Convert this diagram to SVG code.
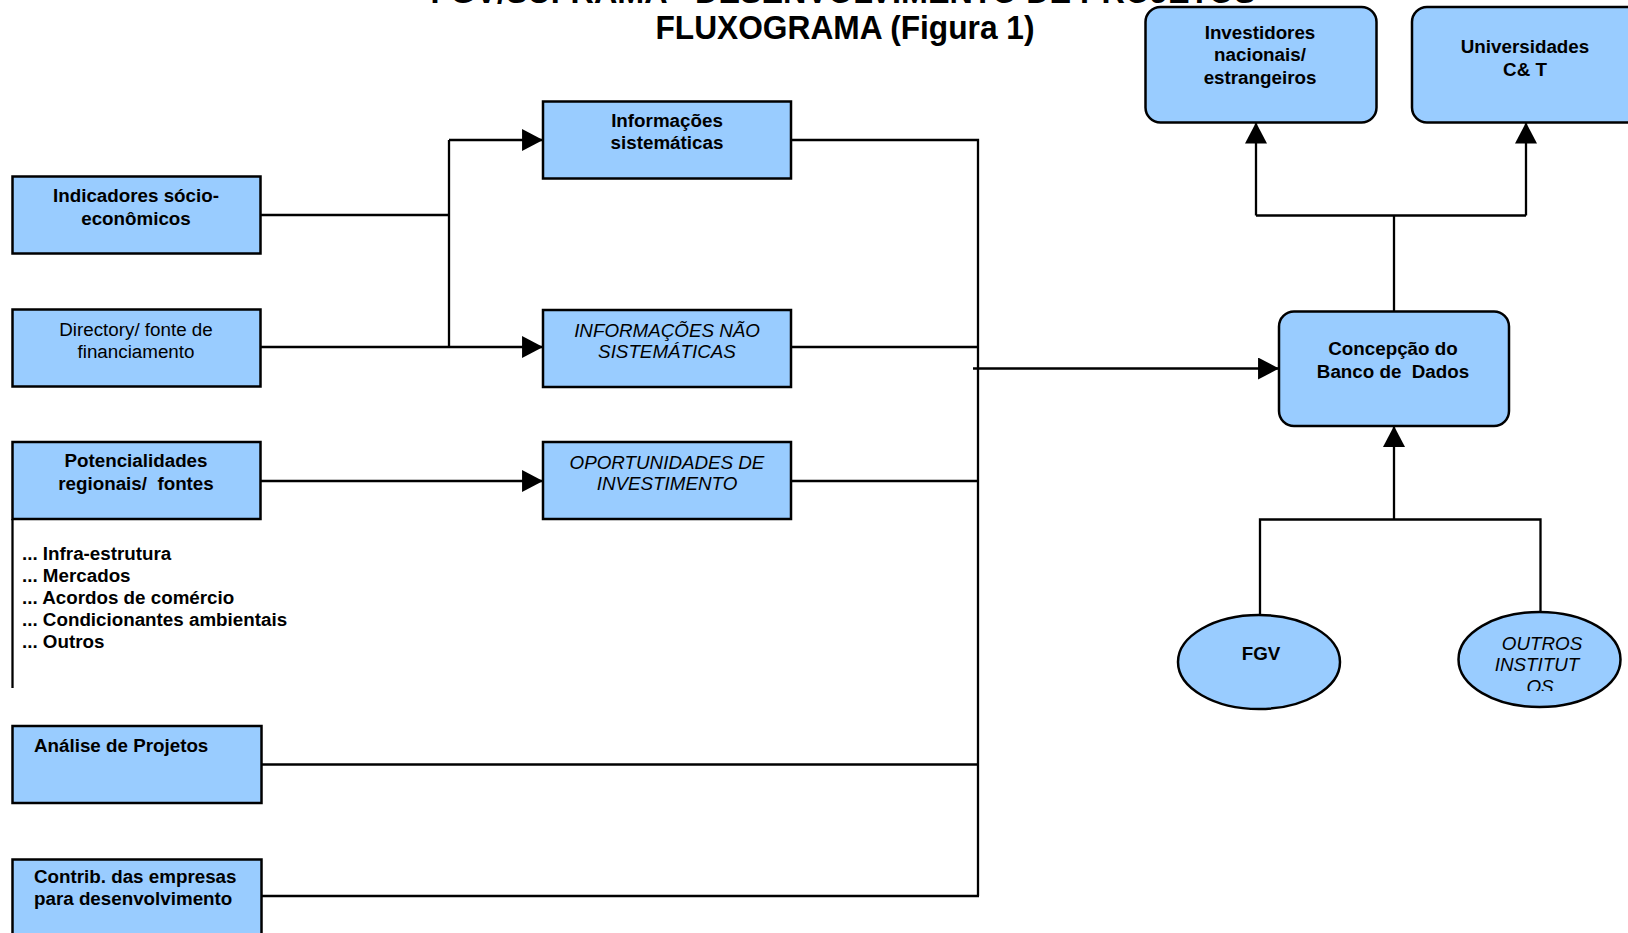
<svg xmlns="http://www.w3.org/2000/svg" width="1628" height="933" viewBox="0 0 1628 933">
  <style>
    .box { fill: #99CCFF; stroke: #000; stroke-width: 2.5; }
    .t { font-family: "Liberation Sans", Arial, sans-serif; font-size: 18.8px; fill: #000; }
    .b { font-weight: bold; }
    .i { font-style: italic; }
    .c { text-anchor: middle; }
    .title { font-family: "Liberation Sans", Arial, sans-serif; font-size: 33px; font-weight: bold; fill: #000; text-anchor: middle; }
    .ln { fill: none; stroke: #000; stroke-width: 2.3; }
  </style>
  <defs>
    <marker id="arr" markerUnits="userSpaceOnUse" markerWidth="22" markerHeight="22" viewBox="0 0 20 21" refX="20" refY="10.5" orient="auto">
      <path d="M0,0 L20,10.5 L0,21 Z" fill="#000"/>
    </marker>
    <clipPath id="clipOutros">
      <rect x="1440" y="600" width="200" height="91"/>
    </clipPath>
  </defs>
  <rect width="1628" height="933" fill="#fff"/>

  <g id="title">
    <text class="title" x="843" y="3" textLength="825" lengthAdjust="spacingAndGlyphs">FGV/SUFRAMA - DESENVOLVIMENTO DE PROJETOS</text>
    <text class="title" x="845" y="39" textLength="379" lengthAdjust="spacingAndGlyphs">FLUXOGRAMA (Figura 1)</text>
  </g>

  <g id="connectors">
    <path class="ln" d="M261,215 H449"/>
    <path class="ln" d="M449,140 V347"/>
    <path class="ln" d="M449,140 H543" marker-end="url(#arr)"/>
    <path class="ln" d="M261,347 H543" marker-end="url(#arr)"/>
    <path class="ln" d="M261,481 H543" marker-end="url(#arr)"/>
    <path class="ln" d="M12.5,519 V688"/>
    <path class="ln" d="M791,140 H978 V896"/>
    <path class="ln" d="M791,347 H979"/>
    <path class="ln" d="M791,481 H979"/>
    <path class="ln" d="M262,764.5 H979"/>
    <path class="ln" d="M262,896 H979"/>
    <path class="ln" d="M973,368.5 H1279" marker-end="url(#arr)"/>
    <path class="ln" d="M1394,311.5 V215.5"/>
    <path class="ln" d="M1256,215.5 H1526"/>
    <path class="ln" d="M1256,215.5 V122.5" marker-end="url(#arr)"/>
    <path class="ln" d="M1526,215.5 V122.5" marker-end="url(#arr)"/>
    <path class="ln" d="M1394,519.5 V426" marker-end="url(#arr)"/>
    <path class="ln" d="M1260,614 V519.5 H1540.5 V612"/>
  </g>

  <g id="n-indicadores">
    <rect class="box" x="12.5" y="176.5" width="248" height="77"/>
    <text class="t b c" x="136" y="202">Indicadores sócio-</text>
    <text class="t b c" x="136" y="224.5">econômicos</text>
  </g>
  <g id="n-directory">
    <rect class="box" x="12.5" y="309.5" width="248" height="77"/>
    <text class="t c" x="136" y="336">Directory/ fonte de</text>
    <text class="t c" x="136" y="358">financiamento</text>
  </g>
  <g id="n-potencialidades">
    <rect class="box" x="12.5" y="442" width="248" height="77"/>
    <text class="t b c" x="136" y="467">Potencialidades</text>
    <text class="t b c" x="136" y="490" xml:space="preserve">regionais/  fontes</text>
  </g>
  <g id="n-lista">
    <text class="t b" x="22" y="560">... Infra-estrutura</text>
    <text class="t b" x="22" y="582">... Mercados</text>
    <text class="t b" x="22" y="604">... Acordos de comércio</text>
    <text class="t b" x="22" y="625.5">... Condicionantes ambientais</text>
    <text class="t b" x="22" y="647.5">... Outros</text>
  </g>
  <g id="n-analise">
    <rect class="box" x="12.5" y="726" width="249" height="77"/>
    <text class="t b" x="34" y="751.5">Análise de Projetos</text>
  </g>
  <g id="n-contrib">
    <rect class="box" x="12.5" y="859.5" width="249" height="90"/>
    <text class="t b" x="34" y="883">Contrib. das empresas</text>
    <text class="t b" x="34" y="905">para desenvolvimento</text>
  </g>

  <g id="n-info-sist">
    <rect class="box" x="543" y="101.5" width="248" height="77"/>
    <text class="t b c" x="667" y="126.5">Informações</text>
    <text class="t b c" x="667" y="149">sistemáticas</text>
  </g>
  <g id="n-info-nao-sist">
    <rect class="box" x="543" y="310" width="248" height="77"/>
    <text class="t i c" x="667" y="336.5">INFORMAÇÕES NÃO</text>
    <text class="t i c" x="667" y="358">SISTEMÁTICAS</text>
  </g>
  <g id="n-oportunidades">
    <rect class="box" x="543" y="442" width="248" height="77"/>
    <text class="t i c" x="667" y="469">OPORTUNIDADES DE</text>
    <text class="t i c" x="667" y="490">INVESTIMENTO</text>
  </g>

  <g id="n-investidores">
    <rect class="box" x="1145.5" y="7" width="231" height="115.5" rx="15" ry="15"/>
    <text class="t b c" x="1260" y="38.5">Investidores</text>
    <text class="t b c" x="1260" y="61">nacionais/</text>
    <text class="t b c" x="1260" y="83.5">estrangeiros</text>
  </g>
  <g id="n-universidades">
    <rect class="box" x="1412" y="7" width="240" height="115.5" rx="15" ry="15"/>
    <text class="t b c" x="1525" y="53">Universidades</text>
    <text class="t b c" x="1525" y="75.5">C&amp; T</text>
  </g>
  <g id="n-concepcao">
    <rect class="box" x="1279" y="311.5" width="230" height="114.5" rx="15" ry="15"/>
    <text class="t b c" x="1393" y="355">Concepção do</text>
    <text class="t b c" x="1393" y="377.5" xml:space="preserve">Banco de  Dados</text>
  </g>
  <g id="n-fgv">
    <ellipse class="box" cx="1259" cy="662" rx="81" ry="47"/>
    <text class="t b c" x="1261" y="660">FGV</text>
  </g>
  <g id="n-outros">
    <ellipse class="box" cx="1539.5" cy="659.5" rx="81" ry="47.5"/>
    <g clip-path="url(#clipOutros)">
      <text class="t i c" x="1542" y="650">OUTROS</text>
      <text class="t i c" x="1537" y="671">INSTITUT</text>
      <text class="t i c" x="1540" y="693">OS</text>
    </g>
  </g>
</svg>
